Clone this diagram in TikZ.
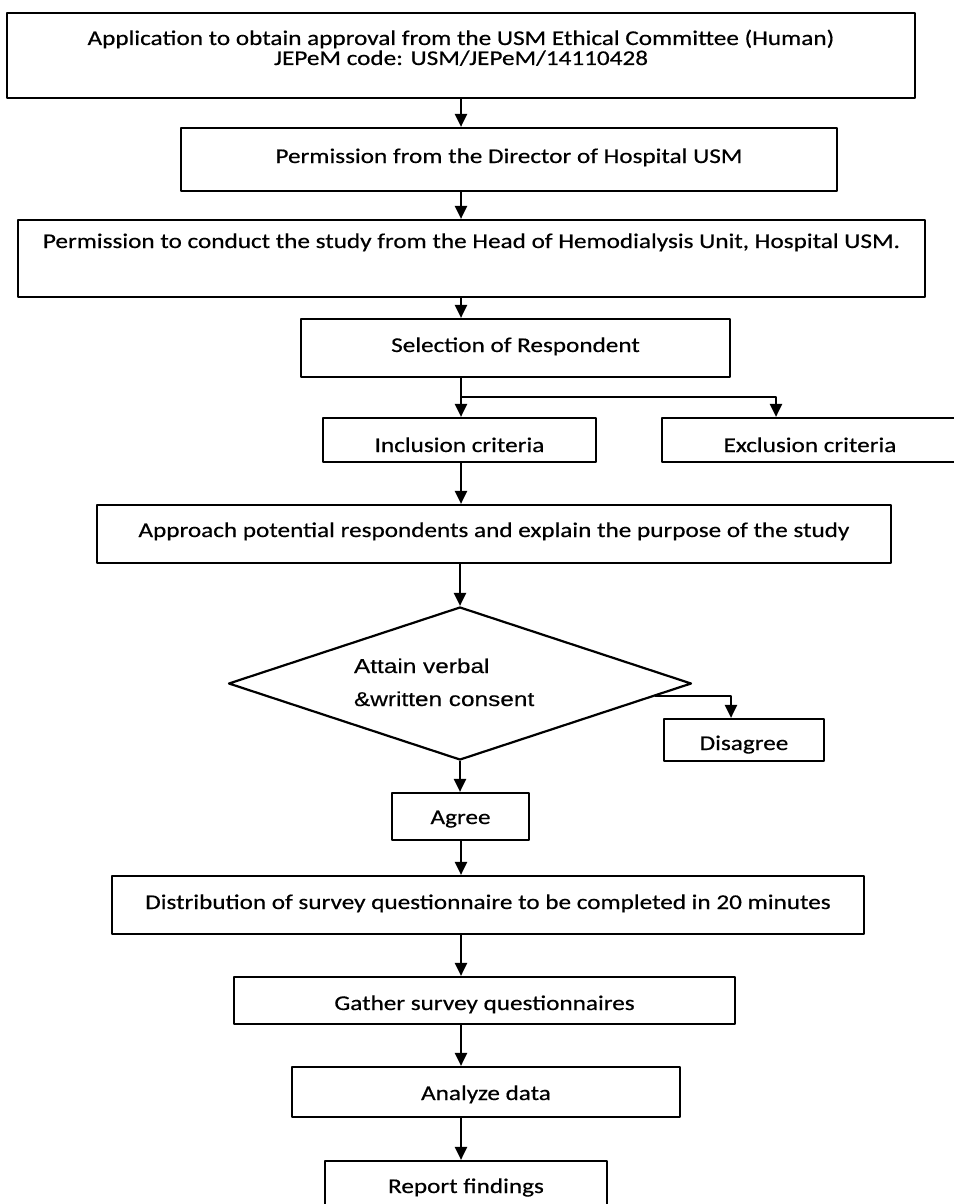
\documentclass[tikz,border=0pt]{standalone}
\usepackage{fontspec}
\setmainfont{Carlito}[FakeStretch=1.2,FakeBold=0.5]
\newfontfamily\arialfont{Liberation Sans}[FakeStretch=1.22,FakeBold=0.4]
\usetikzlibrary{arrows.meta,shapes.geometric,calc}
\begin{document}
\begin{tikzpicture}[x=1pt,y=-1pt,line width=2.2pt,line join=round,
    box/.style={draw,inner sep=0pt,anchor=base,align=center,font=\fontsize{21}{20}\selectfont},
    arr/.style={-{Triangle[length=13pt,width=12pt]}}]
  \useasboundingbox (0,0) rectangle (953,1204);
  \coordinate (sp) at (461,0);
  \node (app) [box,minimum width=908,text height=52pt,text depth=33pt] at (461,65)
    {Application to obtain approval from the USM Ethical Committee (Human)\\JEPeM code: USM/JEPeM/14110428};
  \node (dir) [box,minimum width=656,text height=35pt,text depth=28pt] at (509,163)
    {Permission from the Director of Hospital USM};
  \node (head) [box,minimum width=907,text height=28pt,text depth=49pt] at (471.5,248)
    {Permission to conduct the study from the Head of Hemodialysis Unit, Hospital USM.};
  \node (sel) [box,minimum width=429,text height=33pt,text depth=25pt] at (515.5,352) {Selection of Respondent};
  \node (incl) [box,minimum width=273,text height=34pt,text depth=10pt] at (459.5,452) {Inclusion criteria};
  \node (excl) [box,minimum width=296,text height=34pt,text depth=10pt] at (810,452) {Exclusion criteria};
  \node (appr) [box,minimum width=794,text height=32pt,text depth=26pt] at (494,537)
    {Approach potential respondents and explain the purpose of the study};
  \node (consent) [draw,diamond,inner sep=0pt,aspect=3,minimum width=463,minimum height=153,
    text width=212,text height=15pt,text depth=36pt,align=left,
    font=\arialfont\fontsize{20}{33}\selectfont] at (460,683.5)
    {Attain verbal\\\&written consent};
  \node (dis) [box,minimum width=160,text height=31pt,text depth=11pt] at (744,750) {Disagree};
  \node (agree) [box,minimum width=137,text height=31pt,text depth=16pt] at (460.5,824) {Agree};
  \node (dist) [box,minimum width=752,text height=33pt,text depth=25pt] at (488,909)
    {Distribution of survey questionnaire to be completed in 20 minutes};
  \node (gather) [box,minimum width=501,text height=33pt,text depth=14pt] at (484.5,1010) {Gather survey questionnaires};
  \node (anl) [box,minimum width=388,text height=33pt,text depth=17pt] at (486,1100) {Analyze data};
  \node (rep) [box,minimum width=282,text height=32pt,text depth=22pt] at (466,1193) {Report findings};
  % main line
  \draw[arr] (app.south -| sp) -- (dir.north -| sp);
  \draw[arr] (dir.south -| sp) -- (head.north -| sp);
  \draw[arr] (head.south -| sp) -- (sel.north -| sp);
  \draw[arr] (sel.south -| sp) -- (incl.north -| sp);
  \coordinate (fork) at (461,397);
  \draw[arr] (fork) -| ($(excl.north)+(-34,0)$);
  \draw[arr] (incl.south -| sp) -- (appr.north -| sp);
  \draw[arr] (appr.south -| consent.north) -- (consent.north);
  % consent branches
  \draw[arr] ($(consent.east)!0.16!(consent.south)$) -| ($(dis.north)+(-13,0)$);
  \draw[arr] (consent.south) -- (agree.north -| consent.south);
  \draw[arr] (agree.south -| sp) -- (dist.north -| sp);
  \draw[arr] (dist.south -| sp) -- (gather.north -| sp);
  \draw[arr] (gather.south -| sp) -- (anl.north -| sp);
  \draw[arr] (anl.south -| sp) -- (rep.north -| sp);
\end{tikzpicture}
\end{document}
